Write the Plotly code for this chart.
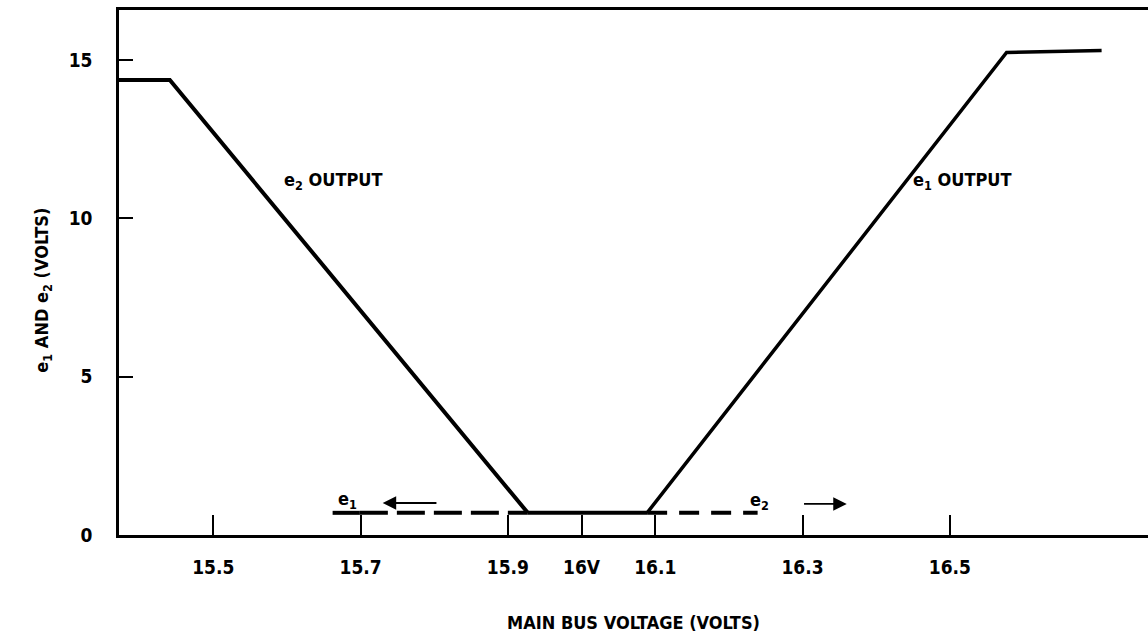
import plotly.graph_objects as go

# Data (x in volts, y in volts)
e2_x = [15.372, 15.441, 15.927]
e2_y = [14.37, 14.37, 0.70]
bottom_x = [15.927, 16.089]
bottom_y = [0.70, 0.70]
e1_x = [16.089, 16.577, 16.706]
e1_y = [0.70, 15.24, 15.30]
e1_dash_x = [15.699, 15.927]
e1_dash_y = [0.70, 0.70]
e1_start_x = [15.662, 15.699]
e1_start_y = [0.70, 0.70]
e2_dash_x = [16.089, 16.239]
e2_dash_y = [0.70, 0.70]

x_tickvals = [15.5, 15.7, 15.9, 16.0, 16.1, 16.3, 16.5]
x_ticktext = ["15.5", "15.7", "15.9", "16V", "16.1", "16.3", "16.5"]
y_tickvals = [0, 5, 10, 15]
y_ticktext = ["0", "5", "10", "15"]

FONT = "DejaVu Sans Condensed, Liberation Sans Narrow, Arial Narrow, DejaVu Sans, sans-serif"

fig = go.Figure()
solid = dict(color="black", width=4)
fig.add_trace(go.Scatter(x=e2_x, y=e2_y, mode="lines", line=solid, showlegend=False))
fig.add_trace(go.Scatter(x=bottom_x, y=bottom_y, mode="lines", line=solid, showlegend=False))
fig.add_trace(go.Scatter(x=e1_x, y=e1_y, mode="lines", line=dict(color="black", width=3.5), showlegend=False))
fig.add_trace(go.Scatter(x=e1_start_x, y=e1_start_y, mode="lines", line=solid, showlegend=False))
fig.add_trace(go.Scatter(x=e1_dash_x, y=e1_dash_y, mode="lines",
                         line=dict(color="black", width=4, dash="28px,9px"), showlegend=False))
fig.add_trace(go.Scatter(x=e2_dash_x, y=e2_dash_y, mode="lines",
                         line=dict(color="black", width=4, dash="20px,12px"), showlegend=False))

tf = dict(family=FONT, size=18, color="black", weight="bold")

annotations = [
    dict(x=15.593, y=11.18, text="e<sub>2</sub> OUTPUT", showarrow=False, xanchor="left", font=tf),
    dict(x=16.447, y=11.18, text="e<sub>1</sub> OUTPUT", showarrow=False, xanchor="left", font=tf),
    dict(x=15.682, y=1.10, text="e<sub>1</sub>", showarrow=False, font=tf),
    dict(x=16.242, y=1.06, text="e<sub>2</sub>", showarrow=False, font=tf),
    dict(x=15.730, y=1.01, ax=15.805, ay=1.01, axref="x", ayref="y", text="",
         showarrow=True, arrowhead=2, arrowsize=1.5, arrowwidth=1.8, arrowcolor="black"),
    dict(x=16.360, y=0.98, ax=16.300, ay=0.98, axref="x", ayref="y", text="",
         showarrow=True, arrowhead=2, arrowsize=1.5, arrowwidth=1.8, arrowcolor="black"),
    dict(x=-0.074, y=0.467, xref="paper", yref="paper", textangle=-90,
         xanchor="center", yanchor="middle",
         text="e<sub>1</sub> AND e<sub>2</sub> (VOLTS)", showarrow=False, font=tf),
]

fig.update_layout(
    width=1148, height=639,
    margin=dict(l=119, r=0, t=10, b=104, autoexpand=False),
    paper_bgcolor="white", plot_bgcolor="white",
    font=dict(family=FONT, size=18, color="black", weight="bold"),
    annotations=annotations,
    xaxis=dict(
        range=[15.372, 16.769], showgrid=False, zeroline=False, automargin=False,
        showline=True, linecolor="black", linewidth=2.5, mirror=True,
        ticks="inside", ticklen=20, tickwidth=2, tickcolor="black",
        tickvals=x_tickvals, ticktext=x_ticktext, ticklabelstandoff=13,
        tickfont=dict(size=19),
        title=dict(text="MAIN BUS VOLTAGE (VOLTS)", standoff=40,
                   font=dict(family=FONT, size=18, weight="bold")),
    ),
    yaxis=dict(
        range=[0, 16.58], showgrid=False, zeroline=False, automargin=False,
        showline=True, linecolor="black", linewidth=2.5,
        ticks="inside", ticklen=14, tickwidth=2, tickcolor="black",
        tickvals=y_tickvals, ticktext=y_ticktext, ticklabelstandoff=20,
        tickfont=dict(size=19),
    ),
)

fig.write_html("out.html", config={"displayModeBar": False},
               post_script="document.body.style.margin='0';document.body.style.overflow='hidden';")
